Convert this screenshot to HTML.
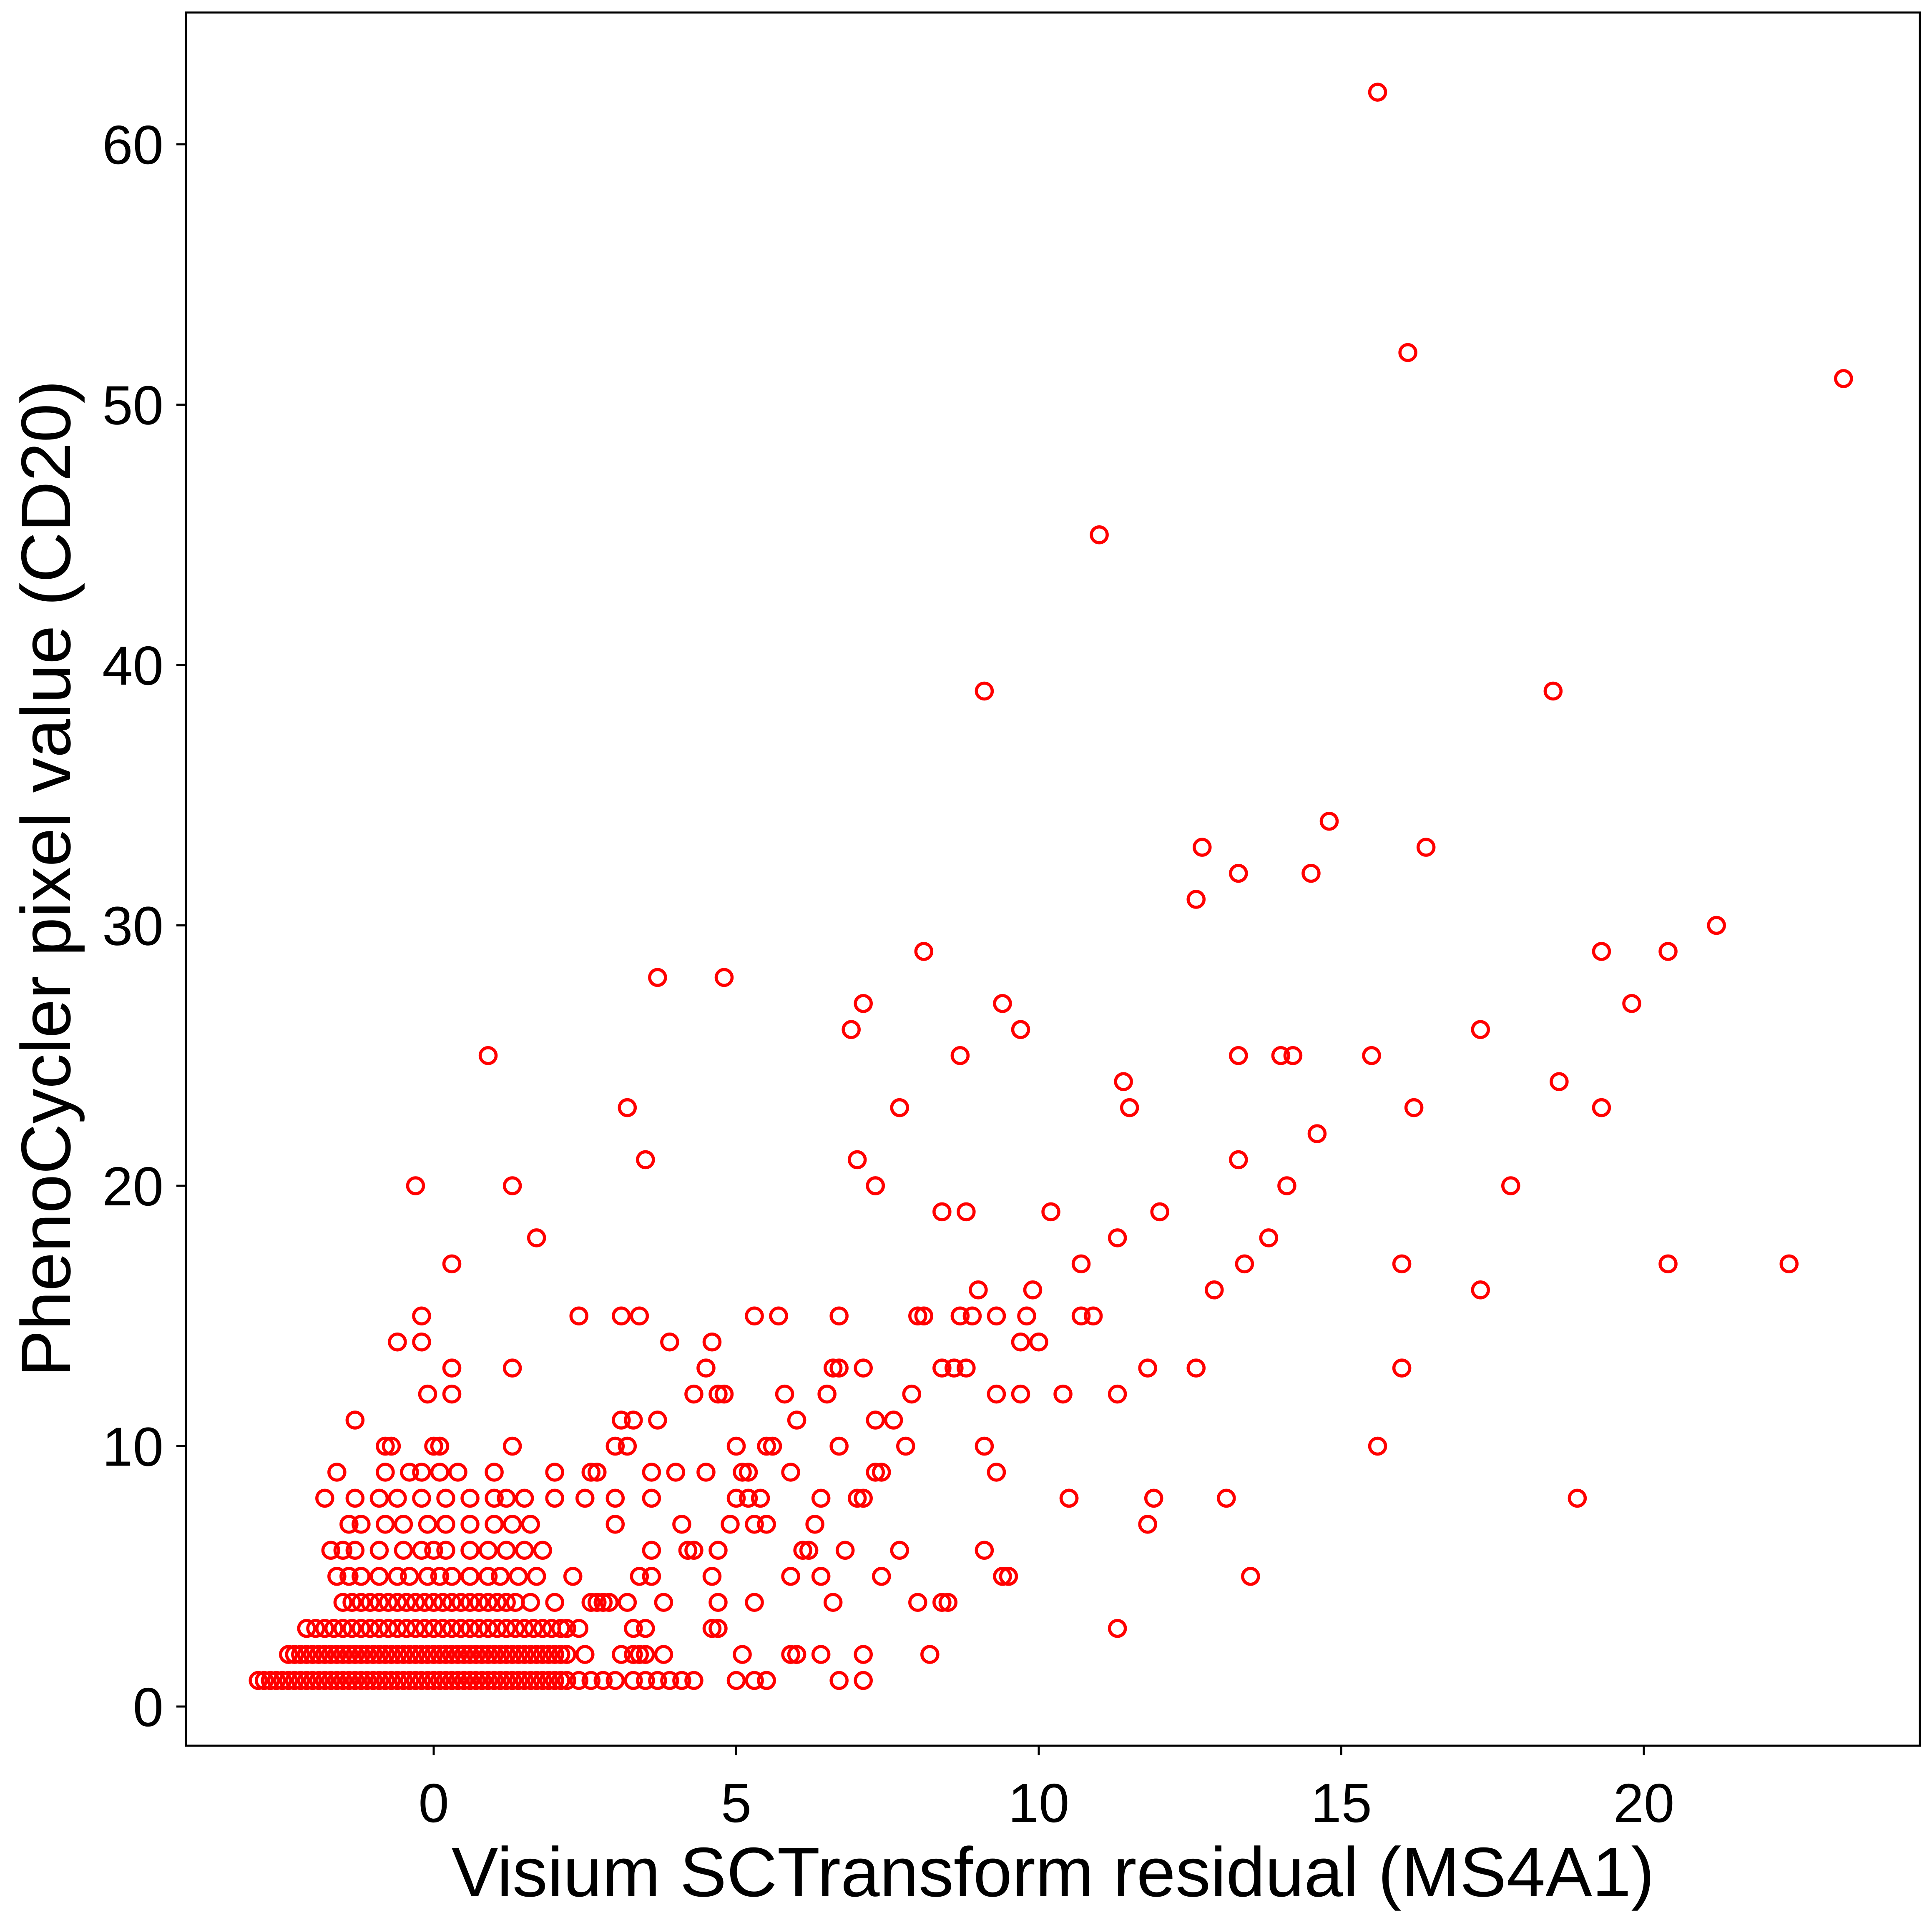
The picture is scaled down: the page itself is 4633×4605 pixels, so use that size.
<!DOCTYPE html>
<html><head><meta charset="utf-8"><style>
html,body{margin:0;padding:0;background:#fff;}
svg{display:block;font-family:"Liberation Sans",Arial,sans-serif;}
</style></head><body>
<svg id="chart" width="4633" height="4605" viewBox="0 0 4633 4605" xmlns="http://www.w3.org/2000/svg">
<rect x="0" y="0" width="4633" height="4605" fill="#fff"/>
<g id="points"></g>
<rect x="446" y="30" width="4158" height="4157" fill="none" stroke="#000" stroke-width="5"/>
<g id="xticks"></g>
<g id="yticks"></g>
<text x="2525" y="4548" font-size="168" text-anchor="middle">Visium SCTransform residual (MS4A1)</text>
<text transform="translate(168,2107) rotate(-90)" font-size="168" text-anchor="middle">PhenoCycler pixel value (CD20)</text>
</svg>
<script>
const xTicks = [0, 5, 10, 15, 20];
const yTicks = [0, 10, 20, 30, 40, 50, 60];
const rowYs = [1,2,3,4,5,6,7,8,9,10,11,12,13,14,15,16,17,18,19,20,21,22,23,24,25,26,27,28,29,30,31,32,33,34,39,45,51,52,62];
const rowXs = [
[-2.9,-2.8,-2.7,-2.6,-2.5,-2.4,-2.3,-2.2,-2.1,-2.0,-1.9,-1.8,-1.7,-1.6,-1.5,-1.4,-1.3,-1.2,-1.1,-1.0,-0.9,-0.8,-0.7,-0.6,-0.5,-0.4,-0.3,-0.2,-0.1,0.0,0.1,0.2,0.3,0.4,0.5,0.6,0.7,0.8,0.9,1.0,1.1,1.2,1.3,1.4,1.5,1.6,1.7,1.8,1.9,2.0,2.1,2.2,2.4,2.6,2.8,3.0,3.3,3.5,3.7,3.9,4.1,4.3,5.0,5.3,5.5,5.5,6.7,7.1],
[-2.4,-2.3,-2.2,-2.1,-2.0,-1.9,-1.8,-1.7,-1.6,-1.5,-1.4,-1.3,-1.2,-1.1,-1.0,-0.9,-0.8,-0.7,-0.6,-0.5,-0.4,-0.3,-0.2,-0.1,0.0,0.1,0.2,0.3,0.4,0.5,0.6,0.7,0.8,0.9,1.0,1.1,1.2,1.3,1.4,1.5,1.6,1.7,1.8,1.9,2.0,2.1,2.2,2.5,3.1,3.3,3.4,3.5,3.8,5.1,5.9,6.0,6.4,7.1,8.2],
[-2.1,-1.95,-1.8,-1.65,-1.5,-1.35,-1.2,-1.05,-0.9,-0.75,-0.6,-0.45,-0.3,-0.15,0.0,0.15,0.3,0.45,0.6,0.75,0.9,1.05,1.2,1.35,1.5,1.65,1.8,1.95,2.1,2.2,2.4,3.3,3.5,4.6,4.7,11.3],
[-1.5,-1.35,-1.2,-1.05,-0.9,-0.75,-0.6,-0.45,-0.3,-0.15,0.0,0.15,0.3,0.45,0.6,0.75,0.9,1.05,1.2,1.35,1.6,2.0,2.6,2.7,2.8,2.9,3.2,3.8,4.7,5.3,6.6,8.0,8.4,8.5],
[-1.6,-1.4,-1.2,-0.9,-0.6,-0.4,-0.1,0.1,0.3,0.6,0.9,1.1,1.4,1.7,2.3,3.4,3.6,4.6,5.9,6.4,7.4,9.4,9.5,13.5],
[-1.7,-1.5,-1.3,-0.9,-0.5,-0.2,0.0,0.2,0.6,0.9,1.2,1.5,1.8,3.6,4.2,4.3,4.7,6.1,6.2,6.8,7.7,9.1],
[-1.4,-1.2,-0.8,-0.5,-0.1,0.2,0.6,1.0,1.3,1.6,3.0,4.1,4.9,5.3,5.5,6.3,11.8],
[-1.8,-1.3,-0.9,-0.6,-0.2,0.2,0.6,1.0,1.2,1.5,2.0,2.5,3.0,3.6,5.0,5.2,5.4,6.4,7.0,7.1,10.5,10.5,11.9,13.1,18.9],
[-1.6,-0.8,-0.4,-0.2,0.1,0.4,1.0,2.0,2.6,2.7,3.6,4.0,4.5,5.1,5.2,5.9,7.3,7.4,9.3],
[-0.8,-0.7,0.0,0.1,1.3,3.0,3.2,5.0,5.5,5.6,6.7,7.8,9.1,15.6],
[-1.3,3.1,3.3,3.7,6.0,7.3,7.6],
[-0.1,0.3,4.3,4.7,4.8,5.8,6.5,7.9,9.3,9.7,10.4,11.3],
[0.3,1.3,4.5,6.6,6.7,7.1,8.4,8.6,8.8,11.8,12.6,16.0],
[-0.6,-0.2,3.9,4.6,9.7,10.0],
[-0.2,2.4,3.1,3.4,5.3,5.7,6.7,8.0,8.1,8.7,8.9,9.3,9.8,10.7,10.9],
[9.0,9.9,12.9,17.3],
[0.3,10.7,13.4,16.0,20.4,22.4],
[1.7,11.3,13.8],
[8.4,8.8,10.2,12.0],
[-0.3,1.3,7.3,7.3,14.1,17.8],
[3.5,7.0,13.3],
[14.6],
[3.2,7.7,11.5,16.2,19.3],
[11.4,18.6],
[0.9,8.7,13.3,14.0,14.2,15.5],
[6.9,9.7,17.3],
[7.1,9.4,19.8],
[3.7,4.8],
[8.1,19.3,20.4],
[21.2],
[12.6],
[13.3,14.5],
[12.7,16.4],
[14.8],
[9.1,18.5],
[11.0],
[23.3],
[16.1],
[15.6]
];
const NS='http://www.w3.org/2000/svg';
function xS(v){return 1040 + v*145.1;}
function yS(v){return 4093 - v*62.45;}
const pts=document.getElementById('points');
rowYs.forEach((yv,i)=>{
  rowXs[i].forEach(xv=>{
    const c=document.createElementNS(NS,'circle');
    c.setAttribute('cx',xS(xv));c.setAttribute('cy',yS(yv));c.setAttribute('r',19);
    c.setAttribute('fill','none');c.setAttribute('stroke','#ff0000');c.setAttribute('stroke-width',7.5);
    
    
    pts.appendChild(c);
  });
});
const xg=document.getElementById('xticks');
xTicks.forEach(t=>{
  const l=document.createElementNS(NS,'line');
  l.setAttribute('x1',xS(t));l.setAttribute('x2',xS(t));l.setAttribute('y1',4187);l.setAttribute('y2',4210);
  l.setAttribute('stroke','#000');l.setAttribute('stroke-width',5);
  
  
  xg.appendChild(l);
  const tx=document.createElementNS(NS,'text');
  tx.setAttribute('x',xS(t));tx.setAttribute('y',4370);tx.setAttribute('font-size',132);tx.setAttribute('text-anchor','middle');
  tx.textContent=t;
  
  
  xg.appendChild(tx);
});
const yg=document.getElementById('yticks');
yTicks.forEach(t=>{
  const l=document.createElementNS(NS,'line');
  l.setAttribute('x1',423);l.setAttribute('x2',446);l.setAttribute('y1',yS(t));l.setAttribute('y2',yS(t));
  l.setAttribute('stroke','#000');l.setAttribute('stroke-width',5);
  
  
  yg.appendChild(l);
  const tx=document.createElementNS(NS,'text');
  tx.setAttribute('x',392);tx.setAttribute('y',yS(t)+47);tx.setAttribute('font-size',132);tx.setAttribute('text-anchor','end');
  tx.textContent=t;
  
  
  yg.appendChild(tx);
});
</script>
</body></html>
